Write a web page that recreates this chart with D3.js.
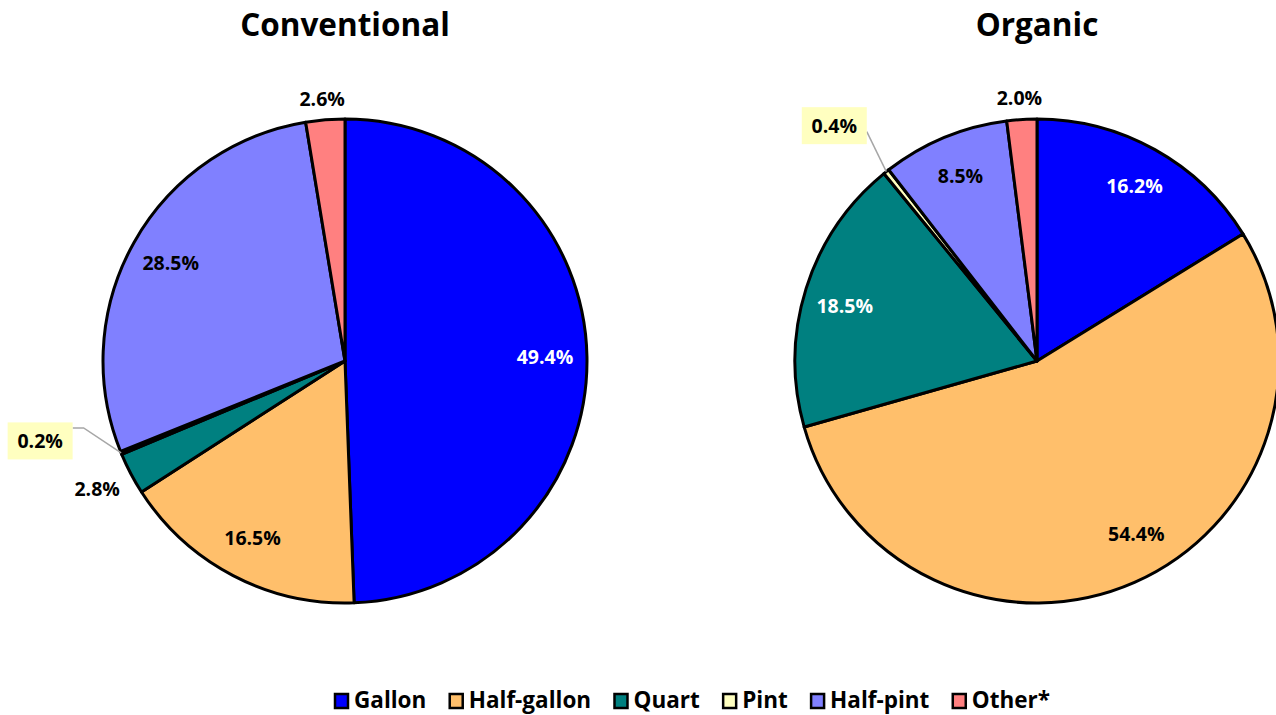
<!DOCTYPE html>
<html><head><meta charset="utf-8">
<script src="https://cdn.jsdelivr.net/npm/d3@7"></script>
<style>
html,body{margin:0;padding:0;background:#fff;}
svg{display:block;font-family:"Open Sans",Lato,sans-serif;font-weight:bold;}
</style></head>
<body>
<svg id="chart" width="1276" height="715"></svg>
<script>
const categories = ["Gallon","Half-gallon","Quart","Pint","Half-pint","Other*"];
const colors = ["#0000FF","#FFBF6B","#008080","#FFFFC0","#8080FF","#FF8080"];
const conventional = [49.4,16.5,2.8,0.2,28.5,2.6];
const organic = [16.2,54.4,18.5,0.4,8.5,2.0];
const titles = ["Conventional","Organic"];
// label placement: "in" = inside, "out" = outside end, "callout" = boxed callout
const convPlacement = ["in","in","out","callout","in","out"];
const orgPlacement = ["in","in","in","callout","in","out"];
const convTextColor = ["#fff","#000","#000","#000","#000","#000"];
const orgTextColor = ["#fff","#000","#fff","#000","#000","#000"];
// small angular nudges (degrees) applied to inside labels, as placed in the original
const convNudge = [0,0,0,0,0,0];
const orgNudge = [0,-6,-1.5,0,0,0];

const svg = d3.select("#chart");
const W = 1276, H = 715;
const R = 242;
const centers = [{x:345,y:361},{x:1037,y:361}];
const pie = d3.pie().sort(null).value(d=>d.v);
const arc = d3.arc().innerRadius(0).outerRadius(R);
const fmt = v => v.toFixed(1) + "%";
const LF = 19.5;

function drawPie(idx, values, placement, textColors, nudge, callout){
  const c = centers[idx];
  const g = svg.append("g").attr("transform",`translate(${c.x},${c.y})`);
  const data = pie(values.map((v,i)=>({v, i})));
  g.selectAll("path").data(data).join("path")
    .attr("d", arc)
    .attr("fill", d=>colors[d.data.i])
    .attr("stroke","#000").attr("stroke-width",3).attr("stroke-linejoin","round");
  svg.append("text").attr("x",c.x).attr("y",36).attr("text-anchor","middle")
    .attr("font-size",31.5).attr("fill","#000").text(titles[idx]);
  data.forEach(d=>{
    const a = (d.startAngle+d.endAngle)/2 + nudge[d.data.i]*Math.PI/180;
    const sx = Math.sin(a), sy = -Math.cos(a);
    const p = placement[d.data.i];
    const label = fmt(d.data.v);
    if(p==="in"){
      const rr = 200;
      g.append("text").attr("x",sx*rr).attr("y",sy*rr).attr("dy","0.35em")
        .attr("text-anchor","middle").attr("font-size",LF)
        .attr("fill",textColors[d.data.i]).text(label);
    } else if(p==="out"){
      const rr = R+11, hw=27, hh=10;
      g.append("text").attr("x",sx*rr+sx*hw).attr("y",sy*rr+Math.sign(sy)*hh).attr("dy","0.35em")
        .attr("text-anchor","middle").attr("font-size",LF).attr("fill","#000").text(label);
    } else {
      const px = sx*R, py = sy*R;
      const bx = px + callout.dx, by = py + callout.dy; // box center
      const bw = 65, bh = 37;
      const ex = bx + bw/2, ey = by + callout.ly;
      g.append("polyline")
        .attr("points", callout.elbow ? `${px},${py} ${ex+callout.elbow},${ey} ${ex},${ey}` : `${px},${py} ${ex},${ey}`)
        .attr("fill","none").attr("stroke","#A6A6A6").attr("stroke-width",1.5);
      g.append("rect").attr("x",bx-bw/2).attr("y",by-bh/2).attr("width",bw).attr("height",bh)
        .attr("fill","#FFFFC0");
      g.append("text").attr("x",bx).attr("y",by).attr("dy","0.35em").attr("text-anchor","middle")
        .attr("font-size",LF).attr("fill","#000").text(label);
    }
  });
}

drawPie(0, conventional, convPlacement, convTextColor, convNudge, {dx:-81, dy:-12, ly:-13, elbow:11});
drawPie(1, organic, orgPlacement, orgTextColor, orgNudge, {dx:-52, dy:-46, ly:6, elbow:0});

// legend
const lg = svg.append("g").attr("transform","translate(0,700)");
const legendFont = 22.5;
const legendLeft = 335, legendRight = 1050;
const items = [];
categories.forEach((cat,i)=>{
  const it = lg.append("g");
  it.append("rect").attr("x",0).attr("y",-6).attr("width",13).attr("height",14)
    .attr("fill",colors[i]).attr("stroke","#000").attr("stroke-width",2.5);
  const t = it.append("text").attr("x",19).attr("y",0).attr("dy","0.35em")
    .attr("font-size",legendFont).attr("fill","#000").text(cat);
  const w = 19 + t.node().getComputedTextLength();
  items.push({it,w});
});
const gap = (legendRight - legendLeft - d3.sum(items,d=>d.w)) / (items.length-1);
let x = legendLeft;
items.forEach(d=>{ d.it.attr("transform",`translate(${x},0)`); x += d.w + gap; });
</script>
</body></html>
